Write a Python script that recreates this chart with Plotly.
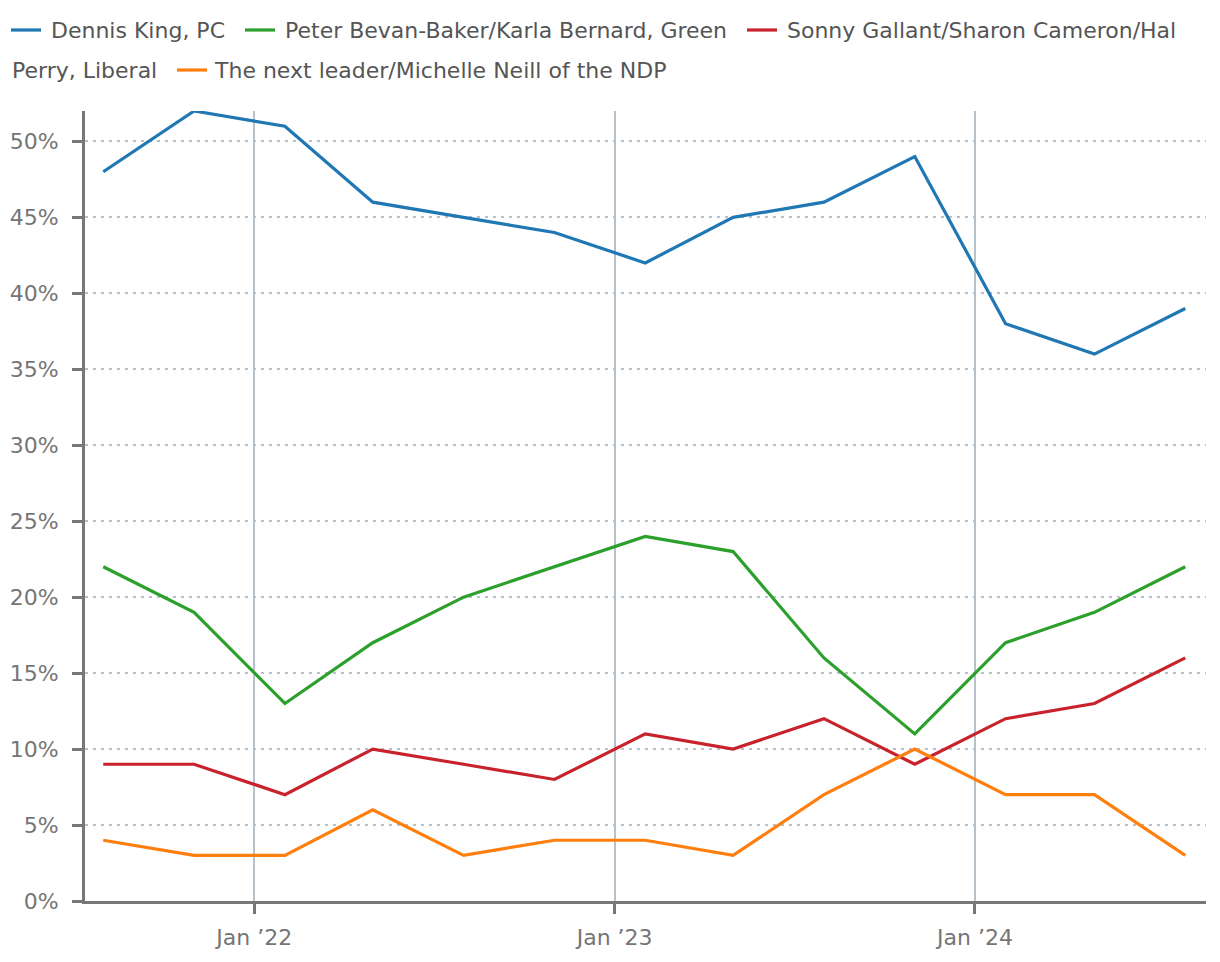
import plotly.graph_objects as go

dates = ["2021-08-01", "2021-11-01", "2022-02-01", "2022-05-01", "2022-08-01",
         "2022-11-01", "2023-02-01", "2023-05-01", "2023-08-01", "2023-11-01",
         "2024-02-01", "2024-05-01", "2024-08-01"]
king = [48, 52, 51, 46, 45, 44, 42, 45, 46, 49, 38, 36, 39]
green = [22, 19, 13, 17, 20, 22, 24, 23, 16, 11, 17, 19, 22]
liberal = [9, 9, 7, 10, 9, 8, 11, 10, 12, 9, 12, 13, 16]
ndp = [4, 3, 3, 6, 3, 4, 4, 3, 7, 10, 7, 7, 3]

names = ["Dennis King, PC", "Peter Bevan-Baker/Karla Bernard, Green",
         "Sonny Gallant/Sharon Cameron/Hal Perry, Liberal",
         "The next leader/Michelle Neill of the NDP"]
colors = ["#1f77b4", "#2ca02c", "#c8222c", "#ff7f0e"]
series = [king, green, liberal, ndp]

x_tickvals = ["2022-01-01", "2023-01-01", "2024-01-01"]
x_ticktext = ["Jan \u201922", "Jan \u201923", "Jan \u201924"]
y_tickvals = [0, 5, 10, 15, 20, 25, 30, 35, 40, 45, 50]
y_ticktext = ["0%", "5%", "10%", "15%", "20%", "25%", "30%", "35%", "40%", "45%", "50%"]

FONT = "DejaVu Sans"
OFF = 8  # page body margin
W, H = 1204, 946
L, R, T, B = 77, 6, 103, 53

fig = go.Figure()
for name, col, vals in zip(names, colors, series):
    fig.add_trace(go.Scatter(x=dates, y=vals, name=name, mode="lines",
                             line=dict(color=col, width=3.2), showlegend=False,
                             hovertemplate="%{y}%<extra>" + name + "</extra>"))

def px2paper_x(px):
    return (px - OFF - L) / (W - L - R)

def px2paper_y(py):
    return 1 - (py - OFF - T) / (H - T - B)

# manual legend (wrapping like the original)
legend_items = [
    # (symbol_start_px, text_start_px, row_y_px, color or None, text)
    (11, 49, 31, colors[0], "Dennis King, PC"),
    (245, 283, 31, colors[1], "Peter Bevan-Baker/Karla Bernard, Green"),
    (747, 785, 31, colors[2], "Sonny Gallant/Sharon Cameron/Hal"),
    (None, 10, 71, None, "Perry, Liberal"),
    (177, 212, 71, colors[3], "The next leader/Michelle Neill of the NDP"),
]
for sx, tx, ry, col, txt in legend_items:
    if sx is not None:
        fig.add_shape(type="line", xref="paper", yref="paper",
                      x0=px2paper_x(sx), x1=px2paper_x(sx + 30),
                      y0=px2paper_y(ry - 1), y1=px2paper_y(ry - 1),
                      line=dict(color=col, width=3.2))
    fig.add_annotation(text=txt, xref="paper", yref="paper",
                       x=px2paper_x(tx), y=px2paper_y(ry),
                       xanchor="left", yanchor="middle", showarrow=False,
                       font=dict(family=FONT, size=22, color="#555555"))

fig.update_layout(
    width=W, height=H,
    margin=dict(l=L, r=R, t=T, b=B, pad=0, autoexpand=False),
    plot_bgcolor="white", paper_bgcolor="white",
    font=dict(family=FONT, size=22, color="#757575"),
    xaxis=dict(
        type="date", automargin=False,
        range=["2021-07-13 12:00", "2024-08-22"],
        tickvals=x_tickvals, ticktext=x_ticktext,
        showgrid=True, gridcolor="#b7c1c9", gridwidth=1.5,
        showline=True, linecolor="#777777", linewidth=3,
        ticks="outside", ticklen=10, tickwidth=3, tickcolor="#777777",
        tickfont=dict(family=FONT, size=22, color="#757575"),
        ticklabelstandoff=5,
        zeroline=False,
    ),
    yaxis=dict(
        automargin=False,
        range=[0, 52.0],
        tickvals=y_tickvals, ticktext=y_ticktext,
        showgrid=True, gridcolor="#b7c1c9", gridwidth=1.5, griddash="3px,5px",
        showline=True, linecolor="#777777", linewidth=3,
        ticks="outside", ticklen=10, tickwidth=3, tickcolor="#777777",
        tickfont=dict(family=FONT, size=22, color="#757575"),
        ticklabelstandoff=9,
        zeroline=False,
    ),
)

fig.write_html("out.html")
